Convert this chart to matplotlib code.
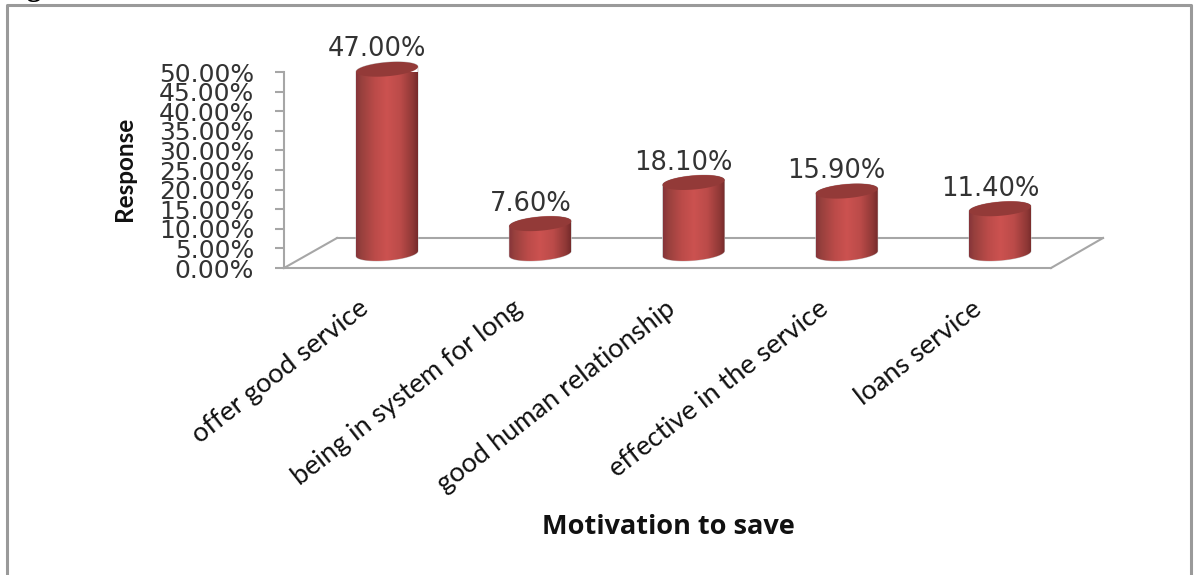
import numpy as np
import matplotlib
matplotlib.use("Agg")
import matplotlib.pyplot as plt
from matplotlib.colors import LinearSegmentedColormap
from matplotlib.lines import Line2D
from matplotlib.patches import Polygon
from matplotlib.transforms import ScaledTranslation

categories = ["offer good service", "being in system for long", "good human relationship",
              "effective in the service", "loans service"]
values = [47.0, 7.6, 18.1, 15.9, 11.4]
y_ticks = [0, 5, 10, 15, 20, 25, 30, 35, 40, 45, 50]

W, H = 1199, 575
fig = plt.figure(figsize=(W / 100, H / 100), dpi=100, facecolor="white")


def fx(px):
    return px / W


def fy(py):
    return 1 - py / H


AX_L, AX_R, AX_T, AX_B = 284, 1051, 72, 268
ax = fig.add_axes([fx(AX_L), fy(AX_B), fx(AX_R - AX_L), (AX_B - AX_T) / H])
spacing = 153.25
x0 = 387
xlim = ((AX_L - x0) / spacing, (AX_R - x0) / spacing)
px_per_pct = (AX_B - AX_T) / 50
depth = 14.5 / px_per_pct
half = 31 / spacing
b = 7 / px_per_pct
tilt = 2.5 / px_per_pct

cmap = LinearSegmentedColormap.from_list(
    "cyl", [(0, "#86343a"), (0.08, "#97403d"), (0.3, "#bb4b49"), (0.5, "#cc5250"),
            (0.72, "#bb4b49"), (0.92, "#8f3836"), (1, "#762b2b")])
grad = np.linspace(0, 1, 128).reshape(1, -1)
t = np.linspace(0, 2 * np.pi, 120)

for i, v in enumerate(values):
    top = v + depth
    tb = np.linspace(np.pi, 2 * np.pi, 40)
    low_x = i + half * np.cos(tb)
    low_y = depth + b * np.sin(tb) + tilt * np.cos(tb)
    tt = np.linspace(0, np.pi, 40)
    up_x = i + half * np.cos(tt)
    up_y = top + b * np.sin(tt) + tilt * np.cos(tt)
    body = Polygon(np.column_stack([np.r_[low_x, up_x], np.r_[low_y, up_y]]),
                   closed=True, facecolor="none", edgecolor="#c8c8c8", lw=0.6, zorder=3, clip_on=False)
    ax.add_patch(body)
    im = ax.imshow(grad, extent=(i - half, i + half, depth - b - tilt, top + b + tilt),
                   aspect="auto", cmap=cmap, zorder=3, clip_on=True)
    im.set_clip_path(body)
    cap = Polygon(np.column_stack([i + half * np.cos(t), top + b * np.sin(t) + tilt * np.cos(t)]),
                  closed=True, facecolor="#933a38", edgecolor="none", zorder=4, clip_on=False)
    ax.add_patch(cap)
    ax.annotate(f"{v:.2f}%", (i, top), xytext=(-7.2, 5), textcoords="offset points",
                ha="center", va="bottom", fontsize=18.5, color="#333333",
                family="DejaVu Sans", zorder=5, annotation_clip=False)

ax.set_xlim(*xlim)
ax.set_ylim(0, 50)
ax.patch.set_alpha(0)
ax.set_zorder(2)

for s in ("top", "right"):
    ax.spines[s].set_visible(False)
for s in ("left", "bottom"):
    ax.spines[s].set_color("#a6a6a6")
    ax.spines[s].set_linewidth(1.5)

ax.set_yticks(y_ticks)
ax.set_yticklabels([f"{v:.2f}%" for v in y_ticks], fontsize=18, color="#333333", family="DejaVu Sans")
ax.tick_params(axis="y", length=6.5, width=1.5, color="#a6a6a6", pad=15)

ax.set_xticks(range(len(categories)))
ax.set_xticklabels(categories, rotation=38, ha="right", va="top", rotation_mode="anchor",
                   fontsize=19.5, color="#111111", family="Lato")
ax.tick_params(axis="x", length=0, pad=20)
shift = ScaledTranslation(-0.29, 0, fig.dpi_scale_trans)
for lab in ax.get_xticklabels():
    lab.set_transform(lab.get_transform() + shift)

floor = [[(284, 268), (337, 238)], [(337, 238), (1103, 238)], [(1103, 238), (1051, 268)]]
for seg in floor:
    fig.add_artist(Line2D([fx(p[0]) for p in seg], [fy(p[1]) for p in seg],
                          color="#a6a6a6", lw=1.5, zorder=1))

frame = [(7, 575), (7, 5), (1191, 5), (1191, 575)]
fig.add_artist(Line2D([fx(p[0]) for p in frame], [fy(p[1]) for p in frame],
                      color="#9a9a9a", lw=2.2, zorder=0))

fig.text(fx(2), fy(-4), "Fig", ha="left", va="baseline", fontsize=21,
         fontweight="bold", family="Liberation Serif", color="#000000")
fig.text(fx(125), fy(169), "Response", rotation=90, ha="center", va="center",
         fontsize=17.5, fontweight="bold", family="Lato", color="#111111")
fig.text(fx(668), fy(526.5), "Motivation to save", ha="center", va="center",
         fontsize=19.5, fontweight="bold", family="Open Sans", color="#111111")

fig.savefig("out.png", dpi=100)
